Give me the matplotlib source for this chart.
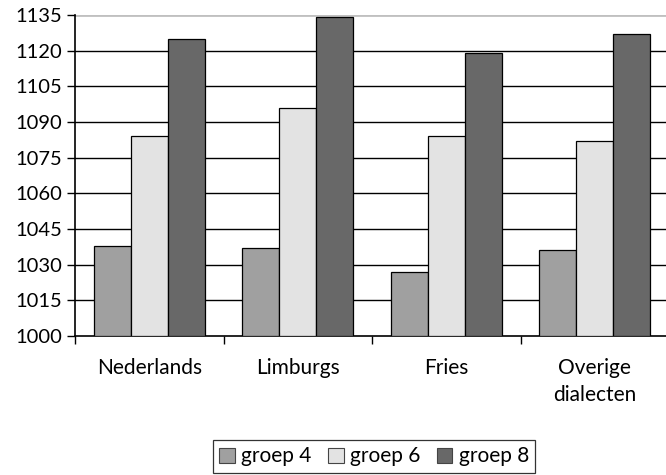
import numpy as np
import matplotlib.pyplot as plt
from matplotlib.ticker import FixedLocator

plt.rcParams['font.family'] = ['Lato', 'DejaVu Sans']

# Scores per dialect group and school year.
categories = ['Nederlands', 'Limburgs', 'Fries', 'Overige\ndialecten']
groep4 = [1038, 1037, 1027, 1036]
groep6 = [1084, 1096, 1084, 1082]
groep8 = [1125, 1134, 1119, 1127]
series = [('groep 4', groep4, '#a0a0a0'),
          ('groep 6', groep6, '#e3e3e3'),
          ('groep 8', groep8, '#686868')]
yticks = np.arange(1000, 1136, 15)

fig = plt.figure(figsize=(6.66, 4.75), dpi=100)
ax = fig.add_axes([0.1126, 0.2926, 0.892, 0.6758])

x = np.arange(len(categories))
w = 0.25
for k, (name, vals, col) in enumerate(series):
    ax.bar(x + (k - 1) * w, np.array(vals) - 1000, bottom=1000, width=w,
           color=col, edgecolor='black', linewidth=0.9, label=name, zorder=3)

ax.set_ylim(1000, 1135)
ax.set_xlim(-0.5, len(categories) - 0.5)
ax.set_yticks(yticks)
for t in yticks[1:-1]:
    ax.axhline(t, color='black', linewidth=1.0, zorder=1)
ax.axhline(yticks[-1], color='#c0c0c0', linewidth=2.0, zorder=1)

ax.set_xticks(x)
ax.set_xticklabels(categories, fontsize=15, linespacing=1.45)
ax.xaxis.set_minor_locator(FixedLocator(np.arange(-0.5, len(categories), 1.0)))
ax.tick_params(axis='x', which='major', length=0, pad=16)
ax.tick_params(axis='x', which='minor', length=6, width=1, direction='out')
ax.tick_params(axis='y', length=6, width=1, labelsize=14.5, pad=3)

for s in ['top', 'right']:
    ax.spines[s].set_visible(False)
for s in ['left', 'bottom']:
    ax.spines[s].set_color('black')
    ax.spines[s].set_linewidth(1.2)

leg = fig.legend(loc='center', bbox_to_anchor=(0.5615, 0.039), ncol=3,
                 fontsize=15, frameon=True, fancybox=False, edgecolor='black',
                 handlelength=0.75, handleheight=0.75, handletextpad=0.3,
                 columnspacing=0.8, borderpad=0.3)
leg.get_frame().set_linewidth(0.9)
for h in leg.legend_handles:
    h.set_edgecolor('#444444')
    h.set_linewidth(0.8)

fig.savefig('out.png', dpi=100)
